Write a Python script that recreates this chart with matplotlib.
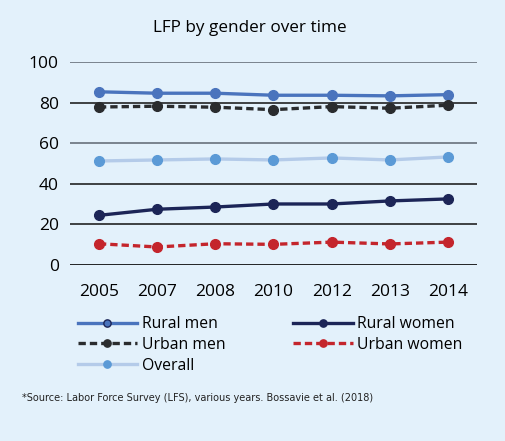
import matplotlib.pyplot as plt

# donnees
years = ['2005', '2007', '2008', '2010', '2012', '2013', '2014']
rural_men = [85.4, 84.7, 84.7, 83.7, 83.7, 83.4, 84.0]
urban_men = [77.9, 78.3, 77.8, 76.6, 78.1, 77.3, 78.8]
overall = [51.3, 51.8, 52.3, 51.8, 52.8, 51.8, 53.3]
rural_women = [24.5, 27.5, 28.6, 30.1, 30.1, 31.6, 32.6]
urban_women = [10.5, 8.9, 10.5, 10.2, 11.3, 10.4, 11.3]

bg = '#e3f1fb'
plt.rcParams['font.family'] = ['Open Sans', 'DejaVu Sans']

fig = plt.figure(figsize=(5.06, 4.41), dpi=100, facecolor=bg)
ax = fig.add_axes([0.138, 0.399, 0.805, 0.46])
ax.set_facecolor(bg)

x = list(range(len(years)))

# lignes de grille
for v in [20, 40, 60, 80, 100]:
    c = '#5d6670' if v in (60, 100) else '#111111'
    ax.axhline(v, color=c, lw=1.1, zorder=1)
ax.axhline(0, color='#111111', lw=2, zorder=1)

l1, = ax.plot(x, rural_men, color='#4a74bd', lw=2.4, marker='o', ms=7,
              label='Rural men', zorder=3)
l2, = ax.plot(x, urban_men, color='#2a2c2e', lw=2.4, ls=(0, (2.2, 1.2)),
              marker='o', ms=7, label='Urban men', zorder=3)
l3, = ax.plot(x, overall, color='#b4cbe9', lw=2.4, marker='o', ms=7,
              mfc='#5b9ad6', mec='#5b9ad6', label='Overall', zorder=3)
l4, = ax.plot(x, rural_women, color='#1c2557', lw=2.4, marker='o', ms=7,
              label='Rural women', zorder=3)
l5, = ax.plot(x, urban_women, color='#c4252c', lw=2.4, ls=(0, (2.2, 1.2)),
              marker='o', ms=7, label='Urban women', zorder=3)

ax.set_xlim(-0.5, len(years) - 0.5)
ax.set_ylim(0, 100)
ax.set_xticks(x)
ax.set_xticklabels(years, fontsize=12.5)
ax.set_yticks([0, 20, 40, 60, 80, 100])
ax.tick_params(axis='y', length=0, pad=8, labelsize=12.5)
ax.tick_params(axis='x', length=0, pad=14)
for s in ax.spines.values():
    s.set_visible(False)

fig.text(0.494, 0.937, 'LFP by gender over time', ha='center', va='center',
         fontsize=12.3)

leg = fig.legend(handles=[l1, l2, l3, l4, l5], ncol=2, loc='upper left',
                 bbox_to_anchor=(0.138, 0.301), frameon=False, fontsize=11.3,
                 handlelength=3.8, handletextpad=0.3, columnspacing=4.3,
                 labelspacing=0.3, markerscale=0.75, borderpad=0)
leg.legend_handles[0].set_markeredgecolor('#1c2557')

fig.text(0.043, 0.098, '*Source: Labor Force Survey (LFS), various years. Bossavie et al. (2018)',
         fontsize=7.0, family='DejaVu Sans', color='#222222', va='center')

fig.savefig('out.png', dpi=100, facecolor=bg)
